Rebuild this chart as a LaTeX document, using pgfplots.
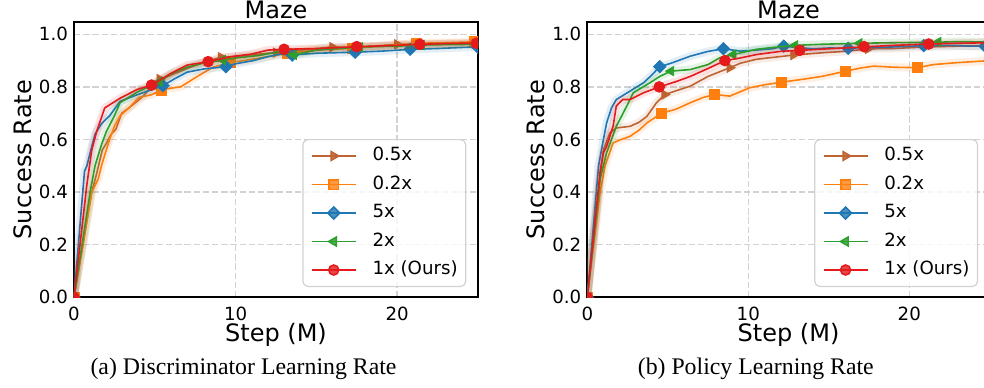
\documentclass[border=0pt]{standalone}
\usepackage{pgfplots}
\pgfplotsset{compat=1.18}
\usepackage{pgfplotstable}
\usepackage{fontspec}
\setmainfont{DejaVu Sans}
\newfontfamily\capfont{Liberation Serif}
\definecolor{cbrown}{RGB}{190,100,50}
\definecolor{corange}{RGB}{255,127,14}
\definecolor{cblue}{RGB}{31,119,180}
\definecolor{cgreen}{RGB}{44,160,44}
\definecolor{cred}{RGB}{228,26,28}
\definecolor{gridc}{RGB}{210,210,210}

% ---------------- Left: Discriminator learning rate ----------------
\pgfplotstableread{
x y
0 0
1.1 0.40
1.4 0.47
1.75 0.56
2.0 0.585
2.3 0.62
2.6 0.64
2.95 0.70
3.5 0.725
4.2 0.76
4.8 0.80
5.3 0.825
6.0 0.845
7.0 0.87
8.0 0.893
9.1 0.913
10.0 0.915
11.0 0.922
12.0 0.928
13.0 0.932
14.0 0.94
15.0 0.945
15.9 0.952
17.0 0.95
18.5 0.955
20.0 0.962
21.5 0.960
23.0 0.964
25.0 0.963
}\Lbrown
\pgfplotstableread{
x y
0 0
5.3 0.83
9.1 0.913
12.5 0.930
16.0 0.951
20.0 0.962
24.8 0.963
}\LbrownM
\pgfplotstableread{
x y
0 0
1.1 0.40
1.5 0.45
1.7 0.50
2.0 0.56
2.2 0.60
2.5 0.65
2.85 0.69
3.4 0.72
4.0 0.76
4.8 0.77
5.4 0.788
6.0 0.795
6.6 0.80
7.5 0.835
8.6 0.875
9.7 0.893
10.5 0.90
11.5 0.91
12.5 0.92
13.2 0.928
15.0 0.94
17.2 0.947
19.0 0.955
21.2 0.966
23.0 0.968
25.0 0.972
}\Lorange
\pgfplotstableread{
x y
0 0
5.4 0.788
9.7 0.893
13.2 0.928
17.2 0.947
21.2 0.966
24.8 0.974
}\LorangeM
\pgfplotstableread{
x y
0 0
0.65 0.48
0.8 0.50
1.0 0.55
1.3 0.62
1.7 0.66
2.2 0.69
2.85 0.745
3.9 0.77
4.6 0.785
5.5 0.805
6.2 0.83
7.0 0.856
8.0 0.868
9.4 0.877
10.0 0.888
11.1 0.90
12.0 0.915
12.8 0.925
13.6 0.922
15.0 0.928
17.4 0.932
19.0 0.936
20.9 0.943
22.5 0.946
24.0 0.950
25.0 0.952
}\Lblue
\pgfplotstableread{
x y
0 0
5.5 0.805
9.4 0.877
13.5 0.921
17.4 0.932
20.8 0.943
25.0 0.950
}\LblueM
\pgfplotstableread{
x y
0 0
1.0 0.40
1.3 0.50
1.7 0.58
2.0 0.63
2.5 0.69
2.85 0.74
3.9 0.78
5.3 0.82
6.0 0.85
7.0 0.875
8.0 0.89
9.2 0.902
10.0 0.91
11.5 0.92
12.8 0.935
13.6 0.922
15.0 0.94
17.8 0.952
20.0 0.955
22.0 0.960
25.0 0.962
}\Lgreen
\pgfplotstableread{
x y
0 0
5.3 0.82
9.2 0.902
13.6 0.922
17.7 0.951
21.5 0.959
25.0 0.962
}\LgreenM
\pgfplotstableread{
x y
0 0
0.8 0.43
1.1 0.56
1.4 0.63
1.9 0.72
2.85 0.757
3.9 0.79
4.8 0.807
5.95 0.85
7.0 0.883
8.3 0.896
9.7 0.915
11.0 0.925
12.0 0.940
13.0 0.943
15.0 0.946
17.5 0.953
19.5 0.957
21.4 0.962
23.0 0.965
25.0 0.967
}\Lred
\pgfplotstableread{
x y
0 0
4.8 0.807
8.3 0.896
13.0 0.943
17.5 0.953
21.4 0.962
24.9 0.966
}\LredM

% ---------------- Right: Policy learning rate ----------------
\pgfplotstableread{
x y
0 0
0.8 0.46
1.0 0.56
1.4 0.625
1.8 0.644
2.65 0.65
3.2 0.665
3.7 0.688
4.3 0.74
4.8 0.771
5.5 0.785
6.4 0.803
7.5 0.84
8.85 0.873
9.5 0.89
10.5 0.905
11.5 0.912
12.8 0.921
14.65 0.93
16.0 0.935
17.45 0.945
19.0 0.946
21.0 0.952
23.0 0.955
25.0 0.956
}\Rbrown
\pgfplotstableread{
x y
0 0
4.8 0.771
8.85 0.873
12.8 0.921
17.45 0.945
}\RbrownM
\pgfplotstableread{
x y
0 0
0.79 0.396
1.1 0.50
1.6 0.587
2.1 0.60
2.65 0.612
3.2 0.635
3.7 0.663
4.6 0.70
5.5 0.715
6.4 0.74
7.2 0.76
7.9 0.771
8.85 0.765
10.1 0.797
11.0 0.808
12.07 0.818
13.5 0.83
14.65 0.841
16.05 0.86
17.0 0.872
17.8 0.879
19.0 0.875
20.5 0.873
21.5 0.885
22.9 0.892
25.0 0.900
}\Rorange
\pgfplotstableread{
x y
0 0
4.6 0.70
7.9 0.771
12.07 0.818
16.05 0.86
20.5 0.873
}\RorangeM
\pgfplotstableread{
x y
0 0
0.7 0.50
1.0 0.60
1.2 0.663
1.5 0.72
1.8 0.752
2.65 0.784
3.5 0.816
4.0 0.845
4.5 0.877
5.2 0.89
6.4 0.917
7.5 0.935
8.45 0.945
9.5 0.936
10.5 0.94
11.5 0.945
12.2 0.955
13.0 0.950
14.0 0.945
15.0 0.948
16.2 0.947
17.5 0.950
19.0 0.952
20.9 0.957
22.5 0.958
24.0 0.955
25.0 0.956
}\Rblue
\pgfplotstableread{
x y
0 0
4.5 0.877
8.45 0.945
12.2 0.955
16.2 0.947
20.9 0.957
24.7 0.955
}\RblueM
\pgfplotstableread{
x y
0 0
0.8 0.45
1.2 0.55
1.8 0.65
2.45 0.727
2.86 0.778
3.9 0.816
4.5 0.84
5.2 0.86
6.4 0.866
7.5 0.885
8.2 0.91
9.07 0.923
10.5 0.943
11.5 0.950
12.9 0.958
14.5 0.962
16.9 0.966
19.0 0.968
21.8 0.970
23.0 0.972
25.0 0.971
}\Rgreen
\pgfplotstableread{
x y
0 0
5.2 0.86
9.07 0.923
12.9 0.958
16.9 0.966
21.8 0.971
}\RgreenM
\pgfplotstableread{
x y
0 0
0.8 0.48
1.0 0.55
1.2 0.574
1.6 0.65
1.8 0.727
2.2 0.752
2.65 0.752
3.5 0.778
4.47 0.80
5.5 0.82
6.4 0.84
7.5 0.87
8.55 0.90
9.5 0.91
10.5 0.923
12.0 0.935
13.2 0.939
15.0 0.945
17.2 0.952
19.0 0.958
21.2 0.963
23.0 0.966
25.0 0.968
}\Rred
\pgfplotstableread{
x y
0 0
4.47 0.80
8.55 0.90
13.2 0.939
17.2 0.953
21.2 0.963
}\RredM

\pgfplotsset{
  mazeaxis/.style={
    scale only axis, width=#1, height=137.65pt,
    xmin=0, xmax=25, ymin=0, ymax=1.0468,
    xtick={0,10,20}, ytick={0,0.2,0.4,0.6,0.8,1.0},
    yticklabel style={/pgf/number format/fixed,/pgf/number format/fixed zerofill,/pgf/number format/precision=1},
    /pgf/number format/assume math mode=true,
    tick label style={font=\fontsize{9.1pt}{11pt}\selectfont},
    yticklabel style={inner sep=0pt, xshift=-2.85pt},
    xticklabel style={inner sep=0pt, yshift=-4.5pt},
    major tick length=0pt,
    grid=major,
    major grid style={gridc, dash pattern=on 3.2pt off 1.4pt, line width=0.75pt},
    axis line style={black, line width=1pt},
    title={Maze},
    every axis title shift=0pt,
    title style={font=\fontsize{12pt}{14pt}\selectfont, at={(rel axis cs:0.5,1)}, anchor=base, yshift=1.9pt},
    xlabel={Step (M)},
    xlabel style={font=\fontsize{12pt}{14pt}\selectfont, at={(rel axis cs:0.5,-0.1613)}, anchor=base},
    ylabel={Success Rate},
    ylabel style={font=\fontsize{12pt}{14pt}\selectfont, at={(rel axis cs:-0.1055,0.5)}, anchor=base},
    clip marker paths=true,
    legend cell align=left,
    legend style={at={(rel axis cs:0.971,0.0374)}, anchor=south east,
      draw=gridc, line width=0.6pt, rounded corners=2.5pt, fill=white, fill opacity=0.8, text opacity=1,
      font=\fontsize{9.1pt}{11pt}\selectfont,
      inner xsep=4pt, inner ysep=4pt, row sep=5.85pt, column sep=8pt,
      nodes={inner sep=0pt, text height=6.6pt, text depth=1.8pt}},
    legend image code/.code={\draw[mark repeat=2,mark phase=2,##1] plot coordinates {(0pt,0pt) (11pt,0pt) (22pt,0pt)};},
  },
  band/.style={draw=#1, line width=4pt, opacity=0.12, line join=round, forget plot},
  curve/.style={draw=#1, line width=0.8pt, line join=round, forget plot},
  mkR/.style={only marks, forget plot, mark=triangle*, mark size=2.7pt, mark options={solid, fill=#1, draw=#1, rotate=-90}},
  mkL/.style={only marks, forget plot, mark=triangle*, mark size=2.7pt, mark options={solid, fill=#1, draw=#1, rotate=90}},
  mkS/.style={only marks, forget plot, mark=square*, mark size=2.5pt, mark options={solid, fill=#1, draw=#1}},
  mkD/.style={only marks, forget plot, mark=square*, mark size=2.2pt, mark options={solid, fill=#1, draw=#1, rotate=45}},
  mkC/.style={only marks, forget plot, mark=*, mark size=2.7pt, mark options={solid, fill=#1, draw=#1}},
}

\newcommand{\legendall}{%
  \addlegendimage{cbrown, line width=0.8pt, mark=triangle*, mark size=2.5pt, mark options={rotate=-90, solid, fill=cbrown}}
  \addlegendentry{0.5x}
  \addlegendimage{corange, line width=0.8pt, mark=square*, mark size=2.4pt, mark options={solid, fill=corange}}
  \addlegendentry{0.2x}
  \addlegendimage{cblue, line width=0.8pt, mark=square*, mark size=2.1pt, mark options={rotate=45, solid, fill=cblue}}
  \addlegendentry{5x}
  \addlegendimage{cgreen, line width=0.8pt, mark=triangle*, mark size=2.5pt, mark options={rotate=90, solid, fill=cgreen}}
  \addlegendentry{2x}
  \addlegendimage{cred, line width=0.8pt, mark=*, mark size=2.5pt, mark options={solid, fill=cred}}
  \addlegendentry{1x (Ours)}
}

\begin{document}
\begin{tikzpicture}
\begin{axis}[mazeaxis=202pt, at={(0,0)}, anchor=south west]
  \legendall
  \addplot[band=cbrown] table {\Lbrown};
  \addplot[curve=cbrown] table {\Lbrown};
  \addplot[mkR=cbrown] table {\LbrownM};
  \addplot[band=corange] table {\Lorange};
  \addplot[curve=corange] table {\Lorange};
  \addplot[mkS=corange] table {\LorangeM};
  \addplot[band=cblue] table {\Lblue};
  \addplot[curve=cblue] table {\Lblue};
  \addplot[mkD=cblue] table {\LblueM};
  \addplot[band=cgreen] table {\Lgreen};
  \addplot[curve=cgreen] table {\Lgreen};
  \addplot[mkL=cgreen] table {\LgreenM};
  \addplot[band=cred] table {\Lred};
  \addplot[curve=cred] table {\Lred};
  \addplot[mkC=cred] table {\LredM};
\end{axis}
\begin{axis}[mazeaxis=201.25pt, at={(256.65pt,0)}, anchor=south west]
  \legendall
  \addplot[band=cbrown] table {\Rbrown};
  \addplot[curve=cbrown] table {\Rbrown};
  \addplot[mkR=cbrown] table {\RbrownM};
  \addplot[band=corange] table {\Rorange};
  \addplot[curve=corange] table {\Rorange};
  \addplot[mkS=corange] table {\RorangeM};
  \addplot[band=cblue] table {\Rblue};
  \addplot[curve=cblue] table {\Rblue};
  \addplot[mkD=cblue] table {\RblueM};
  \addplot[band=cgreen] table {\Rgreen};
  \addplot[curve=cgreen] table {\Rgreen};
  \addplot[mkL=cgreen] table {\RgreenM};
  \addplot[band=cred] table {\Rred};
  \addplot[curve=cred] table {\Rred};
  \addplot[mkC=cred] table {\RredM};
\end{axis}
\node[font=\capfont\fontsize{11.9pt}{14pt}\selectfont, anchor=base] at (84.75pt,-38.5pt) {(a) Discriminator Learning Rate};
\node[font=\capfont\fontsize{11.9pt}{14pt}\selectfont, anchor=base] at (340.9pt,-38.5pt) {(b) Policy Learning Rate};
\pgfresetboundingbox
\path (-37pt,-44.85pt) rectangle (455pt,148.65pt);
\end{tikzpicture}
\end{document}
